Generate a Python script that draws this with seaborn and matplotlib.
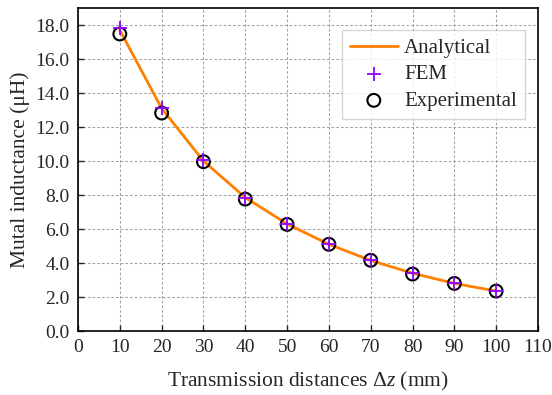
import matplotlib
matplotlib.use("Agg")
import matplotlib.pyplot as plt
import seaborn as sns
import pandas as pd

distance = [10, 20, 30, 40, 50, 60, 70, 80, 90, 100]
analytical = [17.7, 13.1, 10.0, 7.85, 6.3, 5.1, 4.15, 3.4, 2.8, 2.35]
fem = [17.85, 13.1, 10.05, 7.8, 6.3, 5.1, 4.15, 3.4, 2.8, 2.35]
experimental = [17.47, 12.82, 9.96, 7.76, 6.27, 5.1, 4.16, 3.35, 2.8, 2.35]
x_ticks = list(range(0, 111, 10))
y_ticks = [0, 2, 4, 6, 8, 10, 12, 14, 16, 18]

df = pd.DataFrame({"d": distance, "ana": analytical, "fem": fem, "exp": experimental})

sns.set_style("ticks")
plt.rcParams["font.family"] = ["Liberation Serif", "DejaVu Serif"]
plt.rcParams["mathtext.fontset"] = "custom"
plt.rcParams["mathtext.it"] = "Liberation Serif:italic"
plt.rcParams["mathtext.rm"] = "Liberation Serif"

fig = plt.figure(figsize=(5.52, 3.95), dpi=100)
ax = fig.add_axes([0.1413, 0.162, 0.9746 - 0.1413, 0.9797 - 0.162])

sns.lineplot(data=df, x="d", y="ana", ax=ax, color="#FF8000", lw=2.0,
             label="Analytical", zorder=3)
sns.scatterplot(data=df, x="d", y="exp", ax=ax, marker="o", s=85,
                facecolor="none", edgecolor="black", linewidth=1.5,
                label="Experimental", zorder=4)
sns.scatterplot(data=df, x="d", y="fem", ax=ax, marker="+", s=95,
                color="#9000FF", linewidth=1.3, label="FEM", zorder=5)

ax.set_xlim(0, 110)
ax.set_ylim(0, 19)
ax.set_xticks(x_ticks)
ax.set_yticks(y_ticks)
ax.set_yticklabels([f"{v:.1f}" for v in y_ticks])
ax.tick_params(direction="in", labelsize=14, length=4, width=1, pad=6)
ax.grid(True, color="#a0a0a0", linestyle=(0, (2.5, 2)), linewidth=0.75)
ax.set_axisbelow(True)
for sp in ax.spines.values():
    sp.set_linewidth(1.2)
    sp.set_color("black")

ax.set_xlabel(r"Transmission distances $\Delta z$ (mm)", fontsize=15.5, labelpad=10)
ax.set_ylabel("Mutal inductance (μH)", fontsize=15.5, labelpad=4)

handles, labels = ax.get_legend_handles_labels()
order = [labels.index("Analytical"), labels.index("FEM"), labels.index("Experimental")]
leg = ax.legend([handles[i] for i in order], [labels[i] for i in order],
                loc="upper right", bbox_to_anchor=(0.972, 0.932), fontsize=15,
                frameon=True, fancybox=False, edgecolor="#cccccc",
                borderpad=0.4, handlelength=2.3, labelspacing=0.33,
                handletextpad=0.3, borderaxespad=0)
leg.get_frame().set_linewidth(1.0)

fig.savefig("out.png", dpi=100)
